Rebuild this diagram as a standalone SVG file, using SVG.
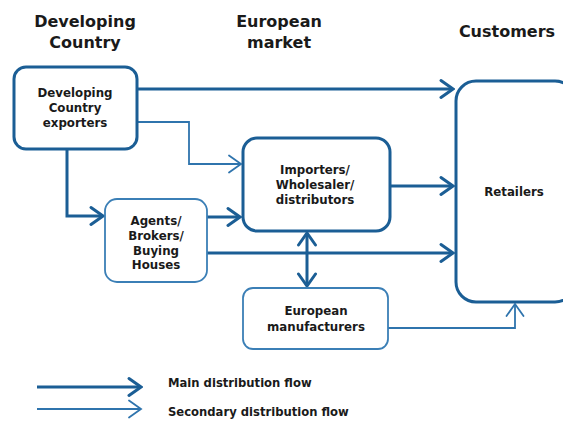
<svg xmlns="http://www.w3.org/2000/svg" width="563" height="421" viewBox="0 0 563 421">
  <style>
    .hdr { font-family: "DejaVu Sans", Verdana, sans-serif; font-weight: bold; font-size: 16px; fill: #1a1a1a; text-anchor: middle; }
    .lbl { font-family: "DejaVu Sans", Verdana, sans-serif; font-weight: bold; font-size: 11.8px; fill: #1a1a1a; text-anchor: middle; }
    .leg { font-family: "DejaVu Sans", Verdana, sans-serif; font-weight: bold; font-size: 11.6px; fill: #1a1a1a; }
    .box-main { fill: #ffffff; stroke: #1b5e95; stroke-width: 3; }
    .box-sec { fill: #ffffff; stroke: #3b7fb6; stroke-width: 1.8; }
    .main { fill: none; stroke: #1b5e95; stroke-width: 3; }
    .sec { fill: none; stroke: #2f74ad; stroke-width: 1.8; }
  </style>
  <defs>
    <marker id="headMain" markerUnits="userSpaceOnUse" viewBox="-16 -11 18 22" refX="0" refY="0" markerWidth="18" markerHeight="22" orient="auto-start-reverse">
      <path d="M-12,-8.5 L0,0 L-12,8.5" fill="none" stroke="#1b5e95" stroke-width="3" stroke-linecap="round" stroke-linejoin="miter"/>
    </marker>
    <marker id="headSec" markerUnits="userSpaceOnUse" viewBox="-16 -11 18 22" refX="0" refY="0" markerWidth="18" markerHeight="22" orient="auto">
      <path d="M-12,-8.5 L0,0 L-12,8.5" fill="none" stroke="#2f74ad" stroke-width="1.8" stroke-linecap="round"/>
    </marker>
  </defs>

  <!-- column headings -->
  <g id="headings">
    <text class="hdr" x="85" y="27">Developing</text>
    <text class="hdr" x="85" y="48">Country</text>
    <text class="hdr" x="279" y="27">European</text>
    <text class="hdr" x="279" y="48">market</text>
    <text class="hdr" x="507" y="37">Customers</text>
  </g>

  <!-- connectors -->
  <g id="connectors">
    <path class="main" d="M137,89 H453" marker-end="url(#headMain)"/>
    <path class="sec" d="M137,122 H189 V164 H241" marker-end="url(#headSec)"/>
    <path class="main" d="M67,149 V216 H103" marker-end="url(#headMain)"/>
    <path class="main" d="M207,217 H240" marker-end="url(#headMain)"/>
    <path class="main" d="M207,253 H453" marker-end="url(#headMain)"/>
    <path class="main" d="M390,186 H453" marker-end="url(#headMain)"/>
    <path class="main" d="M307,233 V286" marker-start="url(#headMain)" marker-end="url(#headMain)"/>
    <path class="sec" d="M388,328 H515 V304" marker-end="url(#headSec)"/>
  </g>

  <g id="exporters">
    <rect class="box-main" x="14" y="67" width="123" height="82" rx="12"/>
    <text class="lbl" x="75" y="97">Developing</text>
    <text class="lbl" x="75" y="112">Country</text>
    <text class="lbl" x="75" y="127">exporters</text>
  </g>

  <g id="importers">
    <rect class="box-main" x="243" y="138" width="147" height="93" rx="14"/>
    <text class="lbl" x="315" y="174">Importers/</text>
    <text class="lbl" x="315" y="189">Wholesaler/</text>
    <text class="lbl" x="315" y="204">distributors</text>
  </g>

  <g id="agents">
    <rect class="box-sec" x="105" y="199" width="102" height="83" rx="12"/>
    <text class="lbl" x="156" y="225">Agents/</text>
    <text class="lbl" x="156" y="240">Brokers/</text>
    <text class="lbl" x="156" y="255">Buying</text>
    <text class="lbl" x="156" y="269">Houses</text>
  </g>

  <g id="manufacturers">
    <rect class="box-sec" x="243" y="288" width="145" height="61" rx="10"/>
    <text class="lbl" x="316" y="315">European</text>
    <text class="lbl" x="316" y="331">manufacturers</text>
  </g>

  <g id="retailers">
    <rect class="box-main" x="456" y="81" width="119" height="221" rx="20"/>
    <text class="lbl" x="514" y="196">Retailers</text>
  </g>

  <!-- legend -->
  <g id="legend">
    <path class="main" d="M37,387 H141" marker-end="url(#headMain)"/>
    <path class="sec" d="M37,409 H141" marker-end="url(#headSec)"/>
    <text class="leg" x="168" y="387">Main distribution flow</text>
    <text class="leg" x="168" y="416">Secondary distribution flow</text>
  </g>
</svg>
